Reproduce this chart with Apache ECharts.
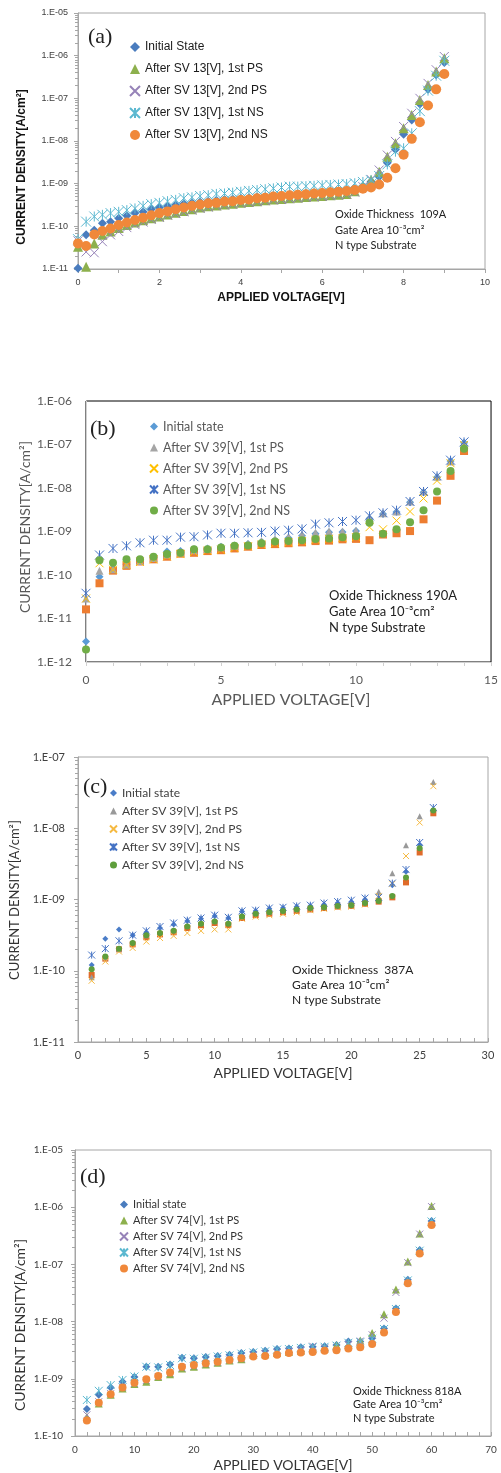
<!DOCTYPE html>
<html>
<head>
<meta charset="utf-8">
<script src="https://cdn.jsdelivr.net/npm/echarts@6/dist/echarts.min.js"></script>
<style>
body { margin: 0; background: #fff; }
.panel { position: absolute; left: 0; width: 501px; }
</style>
</head>
<body>
<div id="chartA" class="panel" style="top:0;height:320px"></div>
<div id="chartB" class="panel" style="top:320px;height:400px"></div>
<div id="chartC" class="panel" style="top:720px;height:380px"></div>
<div id="chartD" class="panel" style="top:1100px;height:373px"></div>
<script>
// values are log10 of current density [A/cm2]

// (a) 109A
var aVolt = [0, 0.2, 0.4, 0.6, 0.8, 1, 1.2, 1.4, 1.6, 1.8, 2, 2.2, 2.4, 2.6, 2.8, 3, 3.2, 3.4, 3.6, 3.8,
		4, 4.2, 4.4, 4.6, 4.8, 5, 5.2, 5.4, 5.6, 5.8, 6, 6.2, 6.4, 6.6, 6.8, 7, 7.2, 7.4, 7.6, 7.8,
		8, 8.2, 8.4, 8.6, 8.8, 9];
var aInit = [-10.98, -10.20, -10.09, -9.93, -9.89, -9.81, -9.75, -9.69, -9.66, -9.60,
		-9.56, -9.53, -9.50, -9.47, -9.45, -9.43, -9.41, -9.39, -9.37, -9.36,
		-9.34, -9.33, -9.31, -9.30, -9.28, -9.27, -9.25, -9.24, -9.23, -9.21,
		-9.20, -9.18, -9.17, -9.15, -9.12, -9.06, -8.95, -8.84, -8.51, -8.20,
		-7.84, -7.51, -7.13, -6.79, -6.45, -6.16];
var aPs1 = [-10.48, -10.95, -10.40, -10.20, -10.12, -10.04, -9.97, -9.91, -9.86, -9.81,
		-9.77, -9.72, -9.68, -9.64, -9.60, -9.56, -9.53, -9.51, -9.49, -9.47,
		-9.45, -9.43, -9.41, -9.39, -9.37, -9.36, -9.34, -9.33, -9.31, -9.30,
		-9.29, -9.27, -9.26, -9.24, -9.18, -9.05, -8.91, -8.72, -8.37, -8.05,
		-7.70, -7.39, -7.04, -6.69, -6.37, -6.06];
var aPs2 = [-10.34, -10.60, -10.62, -10.36, -10.20, -10.12, -10.03, -9.96, -9.90, -9.84,
		-9.79, -9.74, -9.70, -9.66, -9.62, -9.58, -9.55, -9.52, -9.50, -9.48,
		-9.46, -9.44, -9.42, -9.40, -9.38, -9.37, -9.35, -9.34, -9.32, -9.31,
		-9.30, -9.28, -9.27, -9.25, -9.20, -9.07, -8.90, -8.68, -8.33, -8.01,
		-7.66, -7.35, -7.00, -6.65, -6.33, -6.02];
var aNs1 = [-10.30, -9.89, -9.77, -9.73, -9.69, -9.66, -9.62, -9.58, -9.52, -9.48,
		-9.45, -9.41, -9.38, -9.34, -9.32, -9.29, -9.27, -9.24, -9.23, -9.21,
		-9.19, -9.17, -9.15, -9.13, -9.11, -9.09, -9.07, -9.07, -9.06, -9.05,
		-9.04, -9.03, -9.02, -9.01, -8.99, -8.96, -8.92, -8.82, -8.55, -8.25,
		-8.17, -7.82, -7.30, -6.82, -6.47, -6.12];
var aNs2 = [-10.40, -10.46, -10.19, -10.11, -10.05, -9.97, -9.91, -9.85, -9.80, -9.74,
		-9.69, -9.65, -9.60, -9.56, -9.52, -9.49, -9.46, -9.45, -9.42, -9.41,
		-9.38, -9.37, -9.34, -9.33, -9.30, -9.29, -9.27, -9.26, -9.25, -9.23,
		-9.22, -9.20, -9.19, -9.17, -9.15, -9.12, -9.09, -9.02, -8.86, -8.64,
		-8.32, -7.95, -7.56, -7.17, -6.79, -6.43];

// (b) 190A
var bVolt = [0, 0.5, 1, 1.5, 2, 2.5, 3, 3.5, 4, 4.5, 5, 5.5, 6, 6.5, 7, 7.5, 8, 8.5, 9, 9.5,
		10, 10.5, 11, 11.5, 12, 12.5, 13, 13.5, 14];
var bInit = [-11.53, -10.04, -9.85, -9.75, -9.66, -9.60, -9.46, -9.45, -9.41, -9.39,
		-9.35, -9.32, -9.29, -9.24, -9.20, -9.15, -9.10, -9.05, -9.02, -9.01,
		-8.99, -8.70, -8.60, -8.55, -8.33, -8.10, -7.75, -7.38, -6.96];
var bSquare = [-10.79, -10.19, -9.90, -9.79, -9.69, -9.64, -9.58, -9.51, -9.49, -9.45,
		-9.43, -9.39, -9.35, -9.31, -9.29, -9.27, -9.25, -9.22, -9.21, -9.18,
		-9.17, -9.20, -9.07, -9.04, -8.99, -8.72, -8.29, -7.72, -7.15];
var bPs1 = [-10.54, -9.90, -9.87, -9.76, -9.68, -9.61, -9.53, -9.48, -9.43, -9.40,
		-9.36, -9.33, -9.28, -9.22, -9.18, -9.12, -9.07, -9.03, -9.00, -9.00,
		-8.98, -8.68, -8.58, -8.54, -8.31, -8.08, -7.74, -7.39, -6.97];
var bPs2 = [-10.54, -9.73, -9.88, -9.77, -9.70, -9.64, -9.57, -9.52, -9.47, -9.44,
		-9.42, -9.38, -9.34, -9.30, -9.27, -9.25, -9.22, -9.19, -9.17, -9.15,
		-9.13, -8.90, -8.95, -8.75, -8.54, -8.24, -7.83, -7.43, -7.01];
var bNs1 = [-10.42, -9.54, -9.39, -9.33, -9.26, -9.20, -9.20, -9.13, -9.12, -9.08,
		-9.04, -9.04, -9.03, -9.02, -8.99, -8.97, -8.94, -8.83, -8.80, -8.77,
		-8.74, -8.64, -8.57, -8.51, -8.31, -8.08, -7.72, -7.36, -6.94];
var bNs2 = [-11.71, -9.66, -9.72, -9.64, -9.64, -9.58, -9.52, -9.49, -9.41, -9.41,
		-9.37, -9.33, -9.32, -9.27, -9.23, -9.22, -9.20, -9.17, -9.16, -9.13,
		-9.11, -8.80, -9.05, -8.95, -8.79, -8.51, -8.08, -7.61, -7.10];

// (c) 387A
var cVolt = [1, 2, 3, 4, 5, 6, 7, 8, 9, 10, 11, 12, 13, 14, 15, 16, 17, 18, 19, 20,
		21, 22, 23, 24, 25, 26];
var cInit = [-9.92, -9.55, -9.42, -9.50, -9.46, -9.40, -9.35, -9.30, -9.27, -9.23,
		-9.26, -9.17, -9.16, -9.13, -9.12, -9.10, -9.09, -9.07, -9.05, -9.03,
		-9.00, -8.99, -8.80, -8.61, -8.23, -7.74];
var cSquare = [-10.06, -9.83, -9.70, -9.63, -9.53, -9.49, -9.46, -9.40, -9.36, -9.33,
		-9.36, -9.26, -9.22, -9.20, -9.18, -9.16, -9.14, -9.12, -9.10, -9.09,
		-9.06, -9.03, -8.97, -8.76, -8.34, -7.79];
var cPs1 = [-10.09, -9.81, -9.69, -9.60, -9.50, -9.46, -9.43, -9.37, -9.33, -9.30,
		-9.33, -9.23, -9.19, -9.17, -9.15, -9.13, -9.11, -9.10, -9.08, -9.05,
		-9.02, -8.89, -8.63, -8.24, -7.83, -7.35];
var cPs2 = [-10.14, -9.87, -9.73, -9.68, -9.59, -9.54, -9.51, -9.47, -9.44, -9.42,
		-9.42, -9.27, -9.24, -9.22, -9.20, -9.18, -9.15, -9.13, -9.11, -9.10,
		-9.07, -8.95, -8.78, -8.39, -7.92, -7.41];
var cNs1 = [-9.78, -9.69, -9.58, -9.50, -9.44, -9.38, -9.33, -9.29, -9.26, -9.22,
		-9.25, -9.16, -9.15, -9.12, -9.11, -9.09, -9.08, -9.05, -9.03, -9.01,
		-8.98, -8.97, -8.77, -8.58, -8.20, -7.71];
var cNs2 = [-9.98, -9.80, -9.69, -9.61, -9.50, -9.47, -9.44, -9.38, -9.34, -9.31,
		-9.34, -9.24, -9.20, -9.18, -9.16, -9.14, -9.12, -9.11, -9.09, -9.08,
		-9.05, -9.02, -8.95, -8.69, -8.28, -7.75];

// (d) 818A
var dVolt = [2, 4, 6, 8, 10, 12, 14, 16, 18, 20, 22, 24, 26, 28, 30, 32, 34, 36, 38, 40,
		42, 44, 46, 48, 50, 52, 54, 56, 58, 60];
var dInit = [-9.53, -9.28, -9.15, -9.05, -8.97, -8.79, -8.79, -8.75, -8.63, -8.64,
		-8.62, -8.60, -8.58, -8.55, -8.53, -8.51, -8.48, -8.47, -8.45, -8.44,
		-8.43, -8.41, -8.35, -8.35, -8.29, -8.12, -7.77, -7.27, -6.75, -6.24];
var dPs1 = [-9.67, -9.43, -9.28, -9.17, -9.09, -9.05, -8.97, -8.92, -8.82, -8.79,
		-8.75, -8.72, -8.68, -8.66, -8.57, -8.57, -8.55, -8.53, -8.51, -8.48,
		-8.47, -8.41, -8.41, -8.33, -8.20, -7.87, -7.44, -6.95, -6.46, -5.98];
var dPs2 = [-9.63, -9.40, -9.26, -9.15, -9.08, -9.03, -8.96, -8.90, -8.81, -8.78,
		-8.74, -8.71, -8.67, -8.65, -8.58, -8.56, -8.54, -8.52, -8.50, -8.43,
		-8.46, -8.42, -8.40, -8.34, -8.23, -7.94, -7.49, -6.97, -6.47, -5.99];
var dNs1 = [-9.37, -9.21, -9.11, -9.02, -8.96, -8.79, -8.80, -8.76, -8.64, -8.65,
		-8.63, -8.61, -8.59, -8.56, -8.54, -8.52, -8.49, -8.48, -8.46, -8.45,
		-8.44, -8.42, -8.37, -8.36, -8.30, -8.13, -7.78, -7.28, -6.76, -6.25];
var dNs2 = [-9.73, -9.42, -9.27, -9.15, -9.07, -9.01, -8.95, -8.89, -8.79, -8.76,
		-8.73, -8.70, -8.67, -8.64, -8.61, -8.60, -8.58, -8.55, -8.54, -8.53,
		-8.51, -8.50, -8.47, -8.45, -8.39, -8.19, -7.83, -7.33, -6.81, -6.31];

var crossPath = 'path://M0,0L10,10M10,0L0,10';
var starPath = 'path://M0,0L10,10M10,0L0,10M5,0L5,10';

var logPoints = function(volts, logs) {
	var points = [];
	for (var i = 0; i < volts.length; i++) {
		points.push([ volts[i], Math.pow(10, logs[i]) ]);
	}
	return points;
};

var decadeLabel = function(value) {
	var e = Math.round(Math.log(value) / Math.LN10);
	var n = Math.abs(e);
	return '1.E' + (e < 0 ? '-' : '+') + (n < 10 ? '0' + n : n);
};

var decadeValues = function(lo, hi) {
	var values = [];
	for (var e = lo; e <= hi; e++) {
		values.push(Math.pow(10, e));
	}
	return values;
};

var minorValues = function(lo, hi) {
	var values = [];
	for (var e = lo; e < hi; e++) {
		for (var m = 2; m < 10; m++) {
			values.push(m * Math.pow(10, e));
		}
	}
	return values;
};

var makeSeries = function(name, volts, logs, shape, color, size) {
	var s = {
		name : name,
		type : 'scatter',
		data : logPoints(volts, logs),
		symbolSize : size,
		xAxisIndex : 0,
		yAxisIndex : 0
	};
	if (shape == 'x' || shape == 'star') {
		s.symbol = shape == 'x' ? crossPath : starPath;
		s.itemStyle = {
			color : 'rgba(0,0,0,0)',
			borderColor : color,
			borderWidth : 1,
			opacity : 1
		};
	} else {
		s.symbol = shape;
		s.itemStyle = {
			color : color,
			opacity : 1
		};
	}
	return s;
};

var textEl = function(x, y, text, font, color, opts) {
	opts = opts || {};
	return {
		type : 'text',
		x : x,
		y : y,
		rotation : opts.rotate ? Math.PI / 2 : 0,
		style : {
			text : text,
			fontFamily : font.family,
			fontSize : font.size,
			fontWeight : font.weight || 'normal',
			fill : color,
			align : opts.align || 'left',
			verticalAlign : opts.valign || 'middle',
			lineHeight : opts.lineHeight
		}
	};
};

var panelOption = function(p) {
	var tickColor = p.axisColor;
	return {
		animation : false,
		grid : {
			left : p.grid[0],
			top : p.grid[1],
			width : p.grid[2],
			height : p.grid[3],
			show : true,
			borderColor : p.boxColor,
			borderWidth : 1,
			backgroundColor : 'rgba(0,0,0,0)'
		},
		xAxis : {
			type : 'value',
			min : p.xMin,
			max : p.xMax,
			interval : p.xStep,
			axisLine : {
				show : true,
				lineStyle : { color : p.axisColor }
			},
			axisTick : {
				show : true,
				inside : p.xTickInside,
				length : 4,
				lineStyle : { color : tickColor }
			},
			minorTick : {
				show : true,
				splitNumber : p.xMinor,
				length : 4,
				lineStyle : { color : tickColor }
			},
			axisLabel : {
				fontFamily : p.tickFont.family,
				fontSize : p.tickFont.size,
				color : p.tickColor,
				margin : p.xLabelMargin
			},
			splitLine : { show : false }
		},
		yAxis : [ {
			type : 'log',
			logBase : 10,
			min : Math.pow(10, p.yLo),
			max : Math.pow(10, p.yHi),
			axisLine : {
				show : true,
				lineStyle : { color : p.axisColor }
			},
			axisTick : {
				show : p.yTicks,
				length : 4,
				customValues : decadeValues(p.yLo, p.yHi),
				lineStyle : { color : tickColor }
			},
			axisLabel : {
				customValues : decadeValues(p.yLo, p.yHi),
				formatter : decadeLabel,
				fontFamily : p.tickFont.family,
				fontSize : p.tickFont.size,
				color : p.tickColor,
				margin : p.yLabelMargin
			},
			splitLine : { show : false }
		}, {
			type : 'log',
			logBase : 10,
			position : 'left',
			min : Math.pow(10, p.yLo),
			max : Math.pow(10, p.yHi),
			axisLine : { show : false },
			axisTick : {
				show : p.yMinor,
				length : 3,
				customValues : minorValues(p.yLo, p.yHi),
				lineStyle : { color : tickColor }
			},
			axisLabel : { show : false },
			splitLine : { show : false }
		} ],
		legend : {
			orient : 'vertical',
			left : p.legendLeft,
			top : p.legendTop,
			padding : 0,
			itemWidth : p.legendIcon,
			itemHeight : p.legendIcon,
			itemGap : p.legendGap,
			selectedMode : false,
			textStyle : {
				fontFamily : p.legendFont.family,
				fontSize : p.legendFont.size,
				color : p.legendColor
			},
			data : p.legendNames
		},
		graphic : p.texts,
		series : p.series
	};
};

var arial = 'Liberation Sans';
var calibri = 'Lato';
var serif = 'Liberation Serif';

var optA = panelOption({
	grid : [ 78, 13, 407, 256 ],
	boxColor : '#A6A6A6',
	axisColor : '#A6A6A6',
	xMin : 0, xMax : 10, xStep : 2, xMinor : 2, xTickInside : false, xLabelMargin : 9,
	yLo : -11, yHi : -5, yTicks : true, yMinor : true, yLabelMargin : 10,
	tickFont : { family : arial, size : 9 },
	tickColor : '#404040',
	legendLeft : 129, legendTop : 41, legendIcon : 10, legendGap : 10,
	legendFont : { family : arial, size : 12 },
	legendColor : '#1a1a1a',
	legendNames : [ 'Initial State', 'After SV 13[V], 1st PS', 'After SV 13[V], 2nd PS',
			'After SV 13[V], 1st NS', 'After SV 13[V], 2nd NS' ],
	texts : [
		textEl(88, 37, '(a)', { family : serif, size : 22 }, '#222'),
		textEl(335, 207, 'Oxide Thickness  109A\nGate Area 10\u207B\u00B3cm\u00B2\nN type Substrate',
				{ family : calibri, size : 11 }, '#222', { valign : 'top', lineHeight : 15.5 }),
		textEl(22, 167, 'CURRENT DENSITY[A/cm\u00B2]', { family : arial, size : 12, weight : 'bold' },
				'#111', { rotate : true, align : 'center' }),
		textEl(281, 298, 'APPLIED VOLTAGE[V]', { family : arial, size : 12, weight : 'bold' },
				'#111', { align : 'center' })
	],
	series : [
		makeSeries('Initial State', aVolt, aInit, 'diamond', '#4A7CBE', 9),
		makeSeries('After SV 13[V], 1st PS', aVolt, aPs1, 'triangle', '#8DB04D', 10),
		makeSeries('After SV 13[V], 2nd PS', aVolt, aPs2, 'x', '#9683B8', 9),
		makeSeries('After SV 13[V], 1st NS', aVolt, aNs1, 'star', '#5BB8D0', 10),
		makeSeries('After SV 13[V], 2nd NS', aVolt, aNs2, 'circle', '#F0883A', 10)
	]
});

var optB = panelOption({
	grid : [ 86, 81, 410, 261 ],
	boxColor : '#000',
	axisColor : '#D0D0D0',
	xMin : 0, xMax : 15, xStep : 5, xMinor : 5, xTickInside : false, xLabelMargin : 12,
	yLo : -12, yHi : -6, yTicks : false, yMinor : false, yLabelMargin : 14,
	tickFont : { family : calibri, size : 12 },
	tickColor : '#595959',
	legendLeft : 149, legendTop : 100, legendIcon : 8, legendGap : 8,
	legendFont : { family : calibri, size : 12.5 },
	legendColor : '#595959',
	legendNames : [ 'Initial state', 'After SV 39[V], 1st PS', 'After SV 39[V], 2nd PS',
			'After SV 39[V], 1st NS', 'After SV 39[V], 2nd NS' ],
	texts : [
		textEl(90, 109, '(b)', { family : serif, size : 22 }, '#222'),
		textEl(329, 268, 'Oxide Thickness 190A\nGate Area 10\u207B\u00B3cm\u00B2\nN type Substrate',
				{ family : calibri, size : 13 }, '#222', { valign : 'top', lineHeight : 16 }),
		textEl(25, 207, 'CURRENT DENSITY[A/cm\u00B2]', { family : calibri, size : 14 },
				'#595959', { rotate : true, align : 'center' }),
		textEl(291, 380, 'APPLIED VOLTAGE[V]', { family : calibri, size : 16 },
				'#595959', { align : 'center' })
	],
	series : [
		makeSeries('Initial state', bVolt, bInit, 'diamond', '#5B9BD5', 8),
		makeSeries('After SV 39[V]', bVolt, bSquare, 'rect', '#ED7D31', 8),
		makeSeries('After SV 39[V], 1st PS', bVolt, bPs1, 'triangle', '#A5A5A5', 8),
		makeSeries('After SV 39[V], 2nd PS', bVolt, bPs2, 'x', '#FFC000', 8),
		makeSeries('After SV 39[V], 1st NS', bVolt, bNs1, 'star', '#4472C4', 9),
		makeSeries('After SV 39[V], 2nd NS', bVolt, bNs2, 'circle', '#70AD47', 8)
	]
});

var optC = panelOption({
	grid : [ 78, 37, 410, 285 ],
	boxColor : '#A6A6A6',
	axisColor : '#A6A6A6',
	xMin : 0, xMax : 30, xStep : 5, xMinor : 5, xTickInside : true, xLabelMargin : 8,
	yLo : -11, yHi : -7, yTicks : true, yMinor : true, yLabelMargin : 13,
	tickFont : { family : calibri, size : 11 },
	tickColor : '#404040',
	legendLeft : 109, legendTop : 67, legendIcon : 7, legendGap : 6,
	legendFont : { family : calibri, size : 12 },
	legendColor : '#404040',
	legendNames : [ 'Initial state', 'After SV 39[V], 1st PS', 'After SV 39[V], 2nd PS',
			'After SV 39[V], 1st NS', 'After SV 39[V], 2nd NS' ],
	texts : [
		textEl(83, 67, '(c)', { family : serif, size : 22 }, '#222'),
		textEl(292, 243, 'Oxide Thickness  387A\nGate Area 10\u207B\u00B3cm\u00B2\nN type Substrate',
				{ family : calibri, size : 12 }, '#222', { valign : 'top', lineHeight : 14.7 }),
		textEl(15, 180, 'CURRENT DENSITY[A/cm\u00B2]', { family : calibri, size : 13 },
				'#333', { rotate : true, align : 'center' }),
		textEl(283, 353, 'APPLIED VOLTAGE[V]', { family : calibri, size : 14 },
				'#333', { align : 'center' })
	],
	series : [
		makeSeries('Initial state', cVolt, cInit, 'diamond', '#4A7DC8', 6),
		makeSeries('After SV 39[V]', cVolt, cSquare, 'rect', '#E06B2A', 6),
		makeSeries('After SV 39[V], 1st PS', cVolt, cPs1, 'triangle', '#999999', 6),
		makeSeries('After SV 39[V], 2nd PS', cVolt, cPs2, 'x', '#F5B940', 6),
		makeSeries('After SV 39[V], 1st NS', cVolt, cNs1, 'star', '#4472C4', 7),
		makeSeries('After SV 39[V], 2nd NS', cVolt, cNs2, 'circle', '#5E9E3C', 6)
	]
});

var optD = panelOption({
	grid : [ 75, 50, 416, 286 ],
	boxColor : '#A6A6A6',
	axisColor : '#A6A6A6',
	xMin : 0, xMax : 70, xStep : 10, xMinor : 5, xTickInside : true, xLabelMargin : 9,
	yLo : -10, yHi : -5, yTicks : true, yMinor : true, yLabelMargin : 12,
	tickFont : { family : calibri, size : 10 },
	tickColor : '#404040',
	legendLeft : 119, legendTop : 99, legendIcon : 8, legendGap : 5,
	legendFont : { family : calibri, size : 11 },
	legendColor : '#333',
	legendNames : [ 'Initial state', 'After SV 74[V], 1st PS', 'After SV 74[V], 2nd PS',
			'After SV 74[V], 1st NS', 'After SV 74[V], 2nd NS' ],
	texts : [
		textEl(80, 77, '(d)', { family : serif, size : 22 }, '#222'),
		textEl(353, 285, 'Oxide Thickness 818A\nGate Area 10\u207B\u00B3cm\u00B2\nN type Substrate',
				{ family : calibri, size : 11 }, '#222', { valign : 'top', lineHeight : 13.3 }),
		textEl(20, 225, 'CURRENT DENSITY[A/cm\u00B2]', { family : calibri, size : 14 },
				'#333', { rotate : true, align : 'center' }),
		textEl(283, 365, 'APPLIED VOLTAGE[V]', { family : calibri, size : 14 },
				'#333', { align : 'center' })
	],
	series : [
		makeSeries('Initial state', dVolt, dInit, 'diamond', '#4A7CBE', 8),
		makeSeries('After SV 74[V], 1st PS', dVolt, dPs1, 'triangle', '#8DB04D', 8),
		makeSeries('After SV 74[V], 2nd PS', dVolt, dPs2, 'x', '#9683B8', 7),
		makeSeries('After SV 74[V], 1st NS', dVolt, dNs1, 'star', '#5BB8D0', 8),
		makeSeries('After SV 74[V], 2nd NS', dVolt, dNs2, 'circle', '#F0883A', 8)
	]
});

echarts.init(document.getElementById('chartA')).setOption(optA);
echarts.init(document.getElementById('chartB')).setOption(optB);
echarts.init(document.getElementById('chartC')).setOption(optC);
echarts.init(document.getElementById('chartD')).setOption(optD);
</script>
</body>
</html>
